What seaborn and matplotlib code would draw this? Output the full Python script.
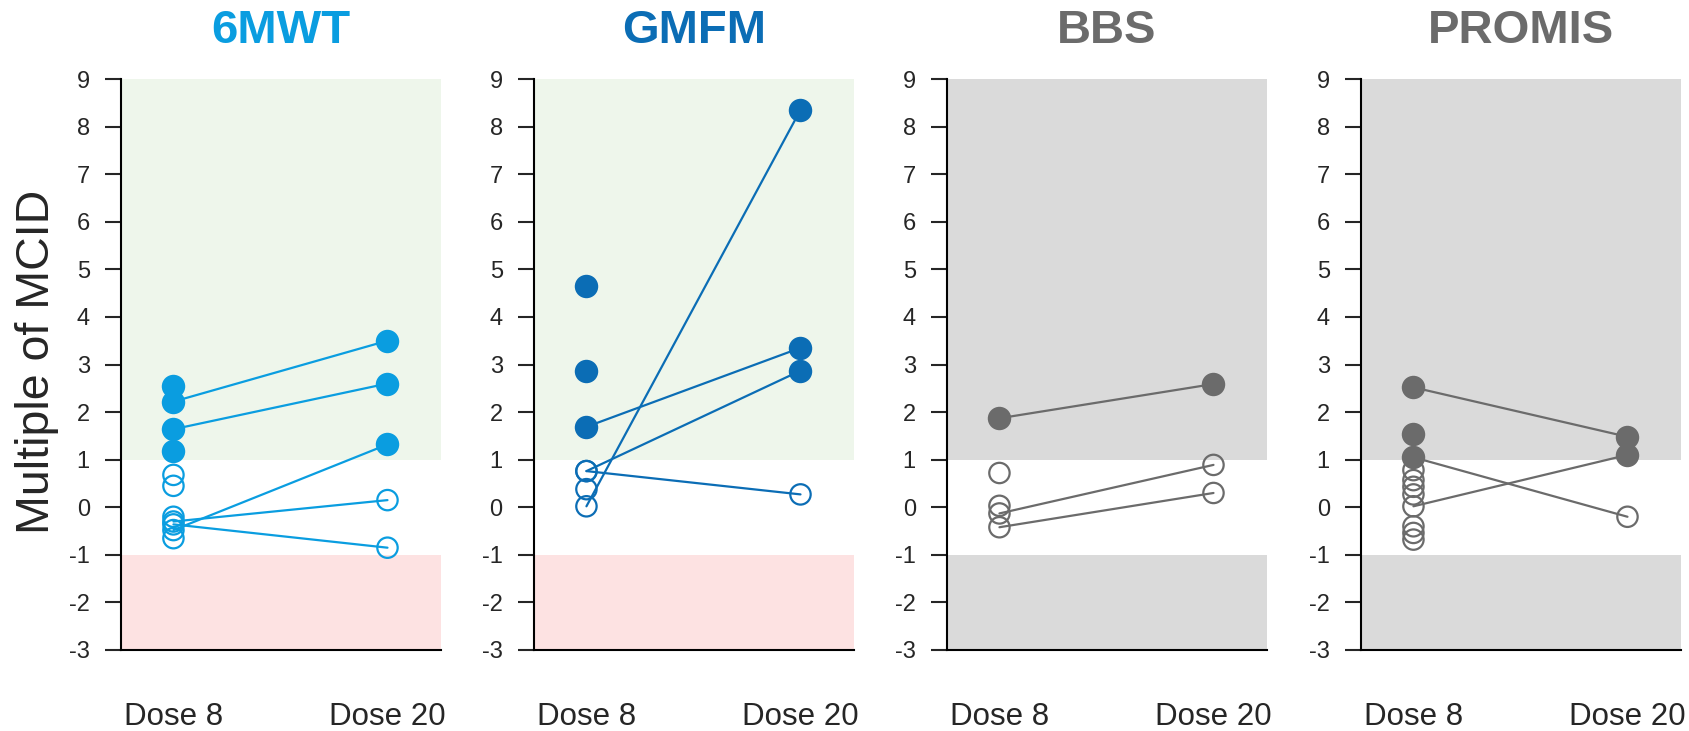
import pandas as pd
import matplotlib.pyplot as plt
import seaborn as sns

measures = ['6MWT', 'GMFM', 'BBS', 'PROMIS']
colors = ['#0A9DE0', '#0B6DB5', '#6B6B6B', '#6B6B6B']
dose_labels = ['Dose 8', 'Dose 20']

# dose 8 values with no dose 20 follow-up
mwt_d8_only = [2.55, 1.19, 0.68, 0.45, -0.2, -0.65]
gmfm_d8_only = [4.65, 2.87, 0.38]
bbs_d8_only = [0.72, 0.03]
promis_d8_only = [1.54, 0.78, 0.57, 0.43, 0.27, -0.40, -0.54, -0.68]

# paired patients: dose 8 -> dose 20
mwt_d8 = [2.22, 1.64, -0.48, -0.3, -0.36]
mwt_d20 = [3.5, 2.6, 1.32, 0.15, -0.85]
gmfm_d8 = [0.02, 1.69, 0.76, 0.76]
gmfm_d20 = [8.35, 3.35, 2.87, 0.27]
bbs_d8 = [1.87, -0.13, -0.42]
bbs_d20 = [2.59, 0.89, 0.30]
promis_d8 = [2.52, 1.05, 0.02]
promis_d20 = [1.48, -0.2, 1.1]

unpaired = [mwt_d8_only, gmfm_d8_only, bbs_d8_only, promis_d8_only]
paired8 = [mwt_d8, gmfm_d8, bbs_d8, promis_d8]
paired20 = [mwt_d20, gmfm_d20, bbs_d20, promis_d20]

sns.set_style('white')
plt.rcParams['font.family'] = ['Liberation Sans', 'DejaVu Sans']
plt.rcParams['axes.unicode_minus'] = False

fig = plt.figure(figsize=(16.89, 7.31), dpi=100)
W, H = 1689, 731
lefts = [121, 534, 947, 1361]
top, bottom, width = 79, 650, 320

for i, name in enumerate(measures):
    ax = fig.add_axes([lefts[i] / W, 1 - bottom / H, width / W, (bottom - top) / H])
    c = colors[i]

    if i < 2:
        ax.axhspan(1, 9, color='#EEF6EB', lw=0, zorder=0)
        ax.axhspan(-3, -1, color='#FDE2E2', lw=0, zorder=0)
    else:
        ax.axhspan(1, 9, color='#DADADA', lw=0, zorder=0)
        ax.axhspan(-3, -1, color='#DADADA', lw=0, zorder=0)

    n = len(paired8[i])
    lines = pd.DataFrame({
        'x': [0] * n + [1] * n,
        'value': paired8[i] + paired20[i],
        'pid': list(range(n)) * 2,
    })
    pts = pd.DataFrame({
        'x': [0] * len(unpaired[i]) + lines['x'].tolist(),
        'value': unpaired[i] + lines['value'].tolist(),
    })
    pts['filled'] = pts['value'] >= 1

    sns.lineplot(data=lines, x='x', y='value', units='pid', estimator=None,
                 color=c, lw=1.6, ax=ax, zorder=2)
    sns.scatterplot(data=pts[~pts['filled']], x='x', y='value', marker='o', s=215,
                    facecolors='none', edgecolor=c, linewidth=1.6, ax=ax, zorder=3)
    sns.scatterplot(data=pts[pts['filled']], x='x', y='value', marker='o', s=285,
                    color=c, linewidth=0, ax=ax, zorder=4)

    ax.set_xlim(-0.245, 1.25)
    ax.set_ylim(-3, 9)
    ax.set_yticks(range(-3, 10))
    ax.set_xticks([0, 1])
    ax.set_xticklabels(dose_labels, fontsize=22.5)
    ax.tick_params(axis='x', length=0, pad=37.5)
    ax.tick_params(axis='y', length=11.5, width=1.5, labelsize=17, pad=11, left=True)
    for s in ['top', 'right']:
        ax.spines[s].set_visible(False)
    for s in ['left', 'bottom']:
        ax.spines[s].set_linewidth(1.5)
        ax.spines[s].set_color('black')
    ax.set_xlabel('')
    ax.set_ylabel('')
    ax.text(0.5, 1.084, name, transform=ax.transAxes, ha='center', va='center',
            fontsize=34, fontweight='bold', color=c)

    if i == 0:
        ax.set_ylabel('Multiple of MCID', fontsize=33.5, va='center')
        ax.yaxis.set_label_coords(-0.2625, 0.505)

fig.savefig('out.png', dpi=100)
